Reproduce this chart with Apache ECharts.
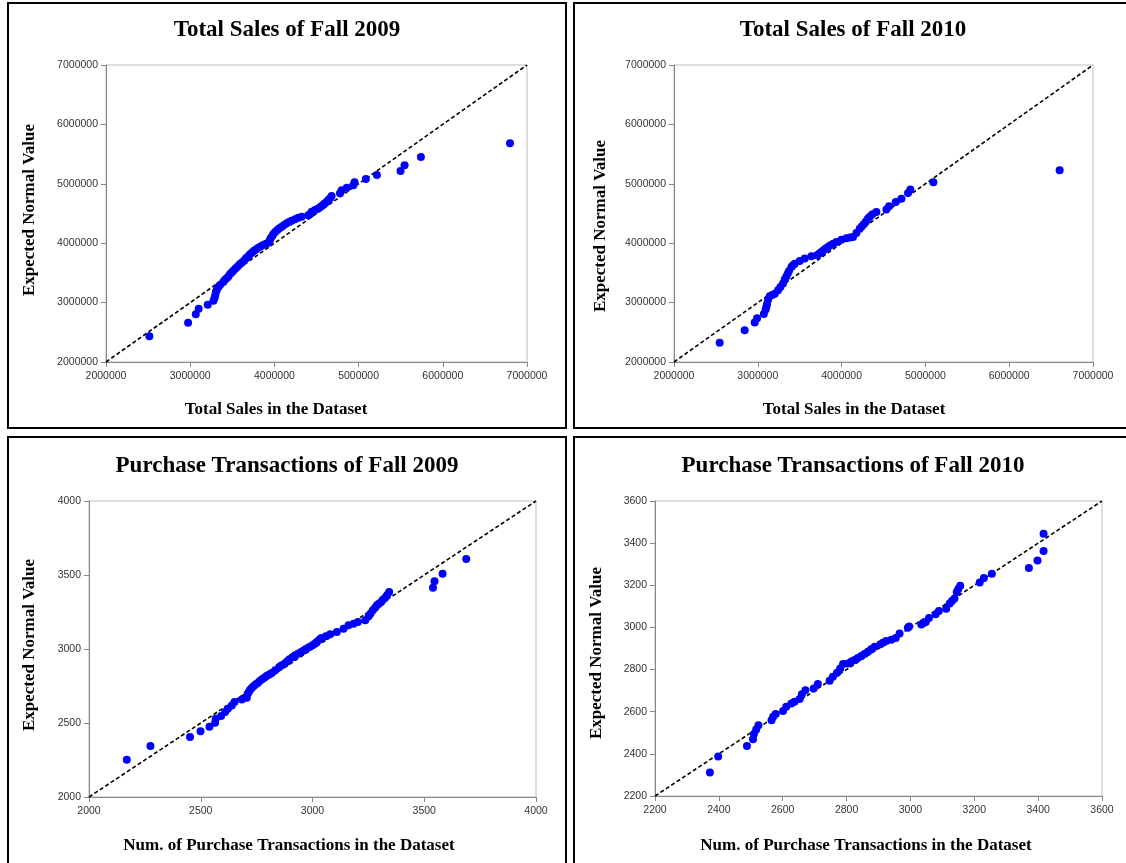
<!DOCTYPE html>
<html>
<head>
<meta charset="utf-8">
<script src="https://cdn.jsdelivr.net/npm/echarts@6/dist/echarts.min.js"></script>
<style>
  html, body { margin: 0; padding: 0; background: #fff; }
  #chart { width: 1126px; height: 863px; }
</style>
</head>
<body>
<div id="chart"></div>
<script>
// Normal Q-Q plots: observed values (x) against expected normal values (y)

// Total sales, Fall 2009
const sales2009Observed = [2515000, 2975000, 3066000, 3101000, 3208000, 3276000, 3290000, 3298000, 3305000, 3315000,
  3335000, 3354000, 3393000, 3410000, 3433000, 3455000, 3473000, 3495000, 3512000, 3535000,
  3560000, 3585000, 3611000, 3640000, 3663000, 3690000, 3710000, 3735000, 3758000, 3785000,
  3809000, 3840000, 3869000, 3900000, 3928000, 3945000, 3956000, 3975000, 3987000, 4010000,
  4035000, 4060000, 4087000, 4115000, 4146000, 4175000, 4205000, 4245000, 4284000, 4324000,
  4403000, 4425000, 4443000, 4482000, 4515000, 4542000, 4565000, 4589000, 4615000, 4640000,
  4665000, 4680000, 4779000, 4799000, 4859000, 4937000, 4952000, 5086000, 5217000, 5498000,
  5546000, 5740000, 6798000];
const sales2009Expected = [2432000, 2662000, 2802000, 2898000, 2965000, 3030000, 3080000, 3130000, 3180000, 3212000,
  3263000, 3296000, 3345000, 3380000, 3409000, 3445000, 3481000, 3510000, 3537000, 3570000,
  3604000, 3640000, 3672000, 3710000, 3746000, 3780000, 3813000, 3845000, 3874000, 3900000,
  3924000, 3948000, 3970000, 3990000, 4008000, 4045000, 4082000, 4120000, 4155000, 4190000,
  4222000, 4250000, 4278000, 4305000, 4335000, 4358000, 4379000, 4405000, 4429000, 4446000,
  4470000, 4492000, 4530000, 4559000, 4580000, 4604000, 4630000, 4660000, 4690000, 4727000,
  4760000, 4795000, 4840000, 4890000, 4935000, 4974000, 5025000, 5081000, 5148000, 5215000,
  5311000, 5451000, 5681000];

// Total sales, Fall 2010
const sales2010Observed = [2545000, 2843000, 2963000, 2991000, 3072000, 3094000, 3102000, 3110000, 3122000, 3142000,
  3172000, 3202000, 3241000, 3270000, 3301000, 3321000, 3341000, 3358000, 3372000, 3401000,
  3420000, 3440000, 3500000, 3560000, 3640000, 3707000, 3735000, 3759000, 3785000, 3810000,
  3838000, 3866000, 3900000, 3938000, 3997000, 4057000, 4100000, 4136000, 4177000, 4216000,
  4240000, 4264000, 4290000, 4315000, 4340000, 4368000, 4415000, 4535000, 4566000, 4646000,
  4713000, 4793000, 4821000, 5095000, 6602000];
const sales2010Expected = [2325000, 2533000, 2663000, 2735000, 2808000, 2882000, 2930000, 2971000, 3050000, 3106000,
  3130000, 3151000, 3207000, 3263000, 3320000, 3387000, 3440000, 3490000, 3532000, 3600000,
  3630000, 3656000, 3700000, 3741000, 3779000, 3796000, 3825000, 3852000, 3880000, 3909000,
  3937000, 3965000, 3990000, 4020000, 4060000, 4083000, 4095000, 4104000, 4172000, 4245000,
  4280000, 4318000, 4365000, 4414000, 4450000, 4487000, 4525000, 4566000, 4621000, 4694000,
  4750000, 4846000, 4902000, 5027000, 5227000];

// Purchase transactions, Fall 2009
const trans2009Observed = [2169, 2275, 2452, 2499, 2539, 2564, 2567, 2591, 2609, 2621,
  2639, 2651, 2684, 2706, 2710, 2715, 2721, 2728, 2736, 2745,
  2755, 2765, 2776, 2786, 2796, 2807, 2818, 2833, 2851, 2862,
  2875, 2886, 2897, 2910, 2922, 2935, 2949, 2960, 2972, 2986,
  3000, 3010, 3019, 3030, 3039, 3060, 3079, 3109, 3139, 3161,
  3184, 3203, 3236, 3251, 3260, 3270, 3280, 3288, 3297, 3307,
  3315, 3325, 3334, 3343, 3539, 3546, 3582, 3688];
const trans2009Expected = [2252, 2345, 2405, 2444, 2475, 2502, 2529, 2547, 2574, 2597,
  2619, 2642, 2658, 2671, 2698, 2710, 2725, 2737, 2748, 2760,
  2770, 2785, 2797, 2808, 2820, 2828, 2838, 2856, 2878, 2890,
  2901, 2915, 2930, 2945, 2957, 2968, 2980, 2990, 3002, 3013,
  3025, 3036, 3047, 3062, 3074, 3086, 3099, 3115, 3137, 3160,
  3171, 3182, 3194, 3221, 3240, 3261, 3278, 3295, 3305, 3318,
  3333, 3347, 3365, 3385, 3414, 3457, 3509, 3608];

// Purchase transactions, Fall 2010
const trans2010Observed = [2372, 2398, 2488, 2507, 2510, 2517, 2524, 2565, 2570, 2578,
  2601, 2611, 2627, 2637, 2653, 2660, 2671, 2697, 2710, 2747,
  2757, 2770, 2780, 2789, 2804, 2815, 2825, 2835, 2846, 2856,
  2867, 2877, 2888, 2906, 2915, 2924, 2940, 2954, 2966, 2992,
  2996, 3034, 3040, 3048, 3058, 3079, 3089, 3112, 3123, 3130,
  3138, 3145, 3150, 3156, 3217, 3230, 3255, 3371, 3398, 3417, 3417];
const trans2010Expected = [2311, 2388, 2437, 2469, 2494, 2516, 2536, 2560, 2576, 2589,
  2603, 2623, 2639, 2647, 2660, 2683, 2702, 2710, 2731, 2747,
  2766, 2785, 2805, 2826, 2829, 2838, 2845, 2855, 2865, 2874,
  2884, 2896, 2908, 2920, 2928, 2936, 2942, 2950, 2971, 2998,
  3005, 3014, 3020, 3026, 3045, 3063, 3078, 3089, 3113, 3125,
  3137, 3168, 3182, 3198, 3213, 3235, 3255, 3282, 3318, 3363, 3445];

// Panel titles and axis titles
const panelTitles = ['Total Sales of Fall 2009', 'Total Sales of Fall 2010',
  'Purchase Transactions of Fall 2009', 'Purchase Transactions of Fall 2010'];
const xTitles = ['Total Sales in the Dataset', 'Total Sales in the Dataset',
  'Num. of Purchase Transactions in the Dataset', 'Num. of Purchase Transactions in the Dataset'];
const yTitle = 'Expected Normal Value';

// Axis ranges: [min, max, interval]
const axisRanges = [
  [2000000, 7000000, 1000000],
  [2000000, 7000000, 1000000],
  [2000, 4000, 500],
  [2200, 3600, 200]
];

const panelData = [
  [sales2009Observed, sales2009Expected],
  [sales2010Observed, sales2010Expected],
  [trans2009Observed, trans2009Expected],
  [trans2010Observed, trans2010Expected]
];

// Layout of each panel (frame, plot area, text anchors)
const layout = [
  { frame: [8, 3, 558, 425], grid: [106, 65, 421, 297], title: [287, 30], xName: [276, 410], yName: [30, 210] },
  { frame: [574, 3, 560, 425], grid: [674, 65, 419, 297], title: [853, 30], xName: [854, 410], yName: [601, 226] },
  { frame: [8, 437, 558, 440], grid: [89, 501, 447, 296], title: [287, 466], xName: [289, 846], yName: [30, 645] },
  { frame: [574, 437, 560, 440], grid: [655, 501, 447, 295], title: [853, 466], xName: [866, 846], yName: [597, 653] }
];

const serif = '"Liberation Serif", "Times New Roman", serif';
const sans = '"Liberation Sans", Arial, sans-serif';
const axisGray = '#868686';

const grids = [], xAxes = [], yAxes = [], series = [], graphics = [];

layout.forEach((L, i) => {
  const [min, max, step] = axisRanges[i];
  grids.push({
    left: L.grid[0], top: L.grid[1], width: L.grid[2], height: L.grid[3],
    show: true, borderColor: '#bdbdbd', borderWidth: 1, backgroundColor: 'transparent'
  });
  const axisCommon = {
    type: 'value', gridIndex: i, min: min, max: max, interval: step,
    splitLine: { show: false },
    axisLine: { show: true, lineStyle: { color: axisGray, width: 1 } },
    axisTick: { show: true, inside: false, length: 5, lineStyle: { color: axisGray } },
    axisLabel: { fontFamily: sans, fontSize: 10.5, color: '#333', formatter: v => String(v) }
  };
  xAxes.push(Object.assign({}, axisCommon, { axisLabel: Object.assign({}, axisCommon.axisLabel, { margin: 9 }) }));
  yAxes.push(Object.assign({}, axisCommon, { axisLabel: Object.assign({}, axisCommon.axisLabel, { margin: 8 }) }));

  // reference line y = x
  series.push({
    type: 'line', xAxisIndex: i, yAxisIndex: i, symbol: 'none', silent: true, z: 2,
    data: [[min, min], [max, max]],
    lineStyle: { color: '#000', width: 1.6, type: [4, 2.5] }
  });
  const [obs, exp] = panelData[i];
  series.push({
    type: 'scatter', xAxisIndex: i, yAxisIndex: i, z: 3,
    symbol: 'circle', symbolSize: 8,
    itemStyle: { color: '#0000ff', opacity: 1 },
    data: obs.map((v, k) => [v, exp[k]])
  });

  // frame
  graphics.push({
    type: 'rect', silent: true,
    shape: { x: L.frame[0], y: L.frame[1], width: L.frame[2], height: L.frame[3] },
    style: { fill: 'none', stroke: '#000', lineWidth: 2 }
  });
  // panel title
  graphics.push({
    type: 'text', x: L.title[0], y: L.title[1],
    style: { text: panelTitles[i], font: 'bold 23px ' + serif, fill: '#000', align: 'center', verticalAlign: 'middle' }
  });
  // x axis title
  graphics.push({
    type: 'text', x: L.xName[0], y: L.xName[1],
    style: { text: xTitles[i], font: 'bold 17px ' + serif, fill: '#000', align: 'center', verticalAlign: 'middle' }
  });
  // y axis title
  graphics.push({
    type: 'text', x: L.yName[0], y: L.yName[1], rotation: Math.PI / 2,
    style: { text: yTitle, font: 'bold 17px ' + serif, fill: '#000', align: 'center', verticalAlign: 'middle' }
  });
});

const chart = echarts.init(document.getElementById('chart'), null, { renderer: 'canvas' });
chart.setOption({
  backgroundColor: '#fff',
  animation: false,
  grid: grids,
  xAxis: xAxes,
  yAxis: yAxes,
  series: series,
  graphic: graphics
});
</script>
</body>
</html>
